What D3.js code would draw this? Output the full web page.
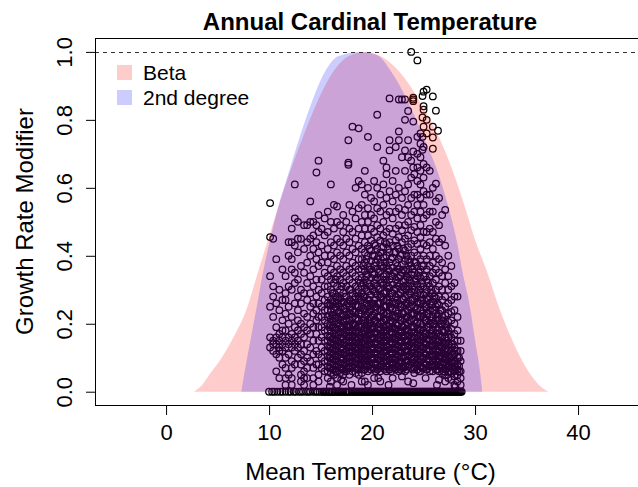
<!DOCTYPE html>
<html>
<head>
<meta charset="utf-8">
<script src="https://cdn.jsdelivr.net/npm/d3@7"></script>
<style>
  body { margin: 0; background: #fff; }
  svg { display: block; }
  text { font-family: 'Liberation Sans', Arial, sans-serif; fill: #000; }
</style>
</head>
<body>
<script>
// cardinal temperature response curves: [temperature, modifier]
const betaCurve = [
  [2.7, 0], [3.5, 0.02], [4.3, 0.054], [5.4, 0.1], [6.4, 0.152], [7.9, 0.25], [8.9, 0.35],
  [9.9, 0.447], [10.9, 0.545], [12.0, 0.644], [13.2, 0.742], [14.5, 0.84], [16.2, 0.94],
  [17.7, 0.987], [19.4, 1.0], [21.0, 0.985], [22.7, 0.94], [24.9, 0.84], [26.6, 0.742],
  [27.9, 0.644], [29.0, 0.545], [30.0, 0.447], [31.2, 0.35], [32.3, 0.25], [33.6, 0.152],
  [35.3, 0.054], [36.2, 0.02], [37.1, 0]
];
const quadCurve = [
  [7.3, 0], [7.6, 0.054], [8.2, 0.152], [8.8, 0.25], [9.4, 0.35], [10.1, 0.447], [10.9, 0.545],
  [11.9, 0.644], [12.9, 0.742], [14.0, 0.84], [15.4, 0.94], [16.7, 0.987], [18.9, 1.0],
  [20.5, 0.99], [21.9, 0.94], [23.7, 0.84], [25.1, 0.742], [26.4, 0.644], [27.4, 0.545],
  [28.2, 0.447], [28.8, 0.35], [29.5, 0.25], [30.0, 0.152], [30.5, 0.054], [30.7, 0]
];

// observed growth modifiers grouped by mean temperature
const obsByTemp = [
  [10.1, [0.555, 0.455, 0.34, 0.25, 0.16, 0.13]],
  [10.4, [0.45, 0.31, 0.28, 0.22, 0.15, 0.14, 0.12]],
  [10.7, [0.39, 0.26, 0.19, 0.16, 0.14, 0.11, 0.06]],
  [11.0, [0.30, 0.24, 0.17, 0.15, 0.13, 0.12, 0.10, 0.04]],
  [11.3, [0.36, 0.27, 0.21, 0.18, 0.16, 0.14, 0.12, 0.08]],
  [11.6, [0.34, 0.29, 0.27, 0.23, 0.18, 0.15, 0.13, 0.10, 0.07, 0.04, 0.02]],
  [11.9, [0.44, 0.40, 0.31, 0.25, 0.20, 0.16, 0.14, 0.11, 0.05]],
  [12.2, [0.48, 0.44, 0.39, 0.36, 0.30, 0.22, 0.17, 0.15, 0.13, 0.09, 0.07, 0.04, 0.02]],
  [12.5, [0.61, 0.51, 0.43, 0.35, 0.32, 0.26, 0.19, 0.16, 0.14, 0.12, 0.08]],
  [12.8, [0.50, 0.45, 0.41, 0.33, 0.28, 0.24, 0.21, 0.18, 0.15, 0.13, 0.10]],
  [13.1, [0.45, 0.37, 0.30, 0.26, 0.20, 0.17, 0.14, 0.11, 0.08, 0.05, 0.03]],
  [13.4, [0.49, 0.42, 0.35, 0.29, 0.23, 0.19, 0.16, 0.12, 0.09, 0.06, 0.04, 0.02]],
  [13.7, [0.49, 0.44, 0.38, 0.32, 0.27, 0.22, 0.18, 0.14, 0.10, 0.07, 0.04]],
  [14.0, [0.56, 0.50, 0.45, 0.40, 0.34, 0.29, 0.25, 0.20, 0.17, 0.13, 0.09]],
  [14.3, [0.50, 0.46, 0.42, 0.36, 0.31, 0.26, 0.23, 0.19, 0.15, 0.11, 0.07, 0.04, 0.02]],
  [14.6, [0.645, 0.49, 0.44, 0.39, 0.33, 0.28, 0.24, 0.21, 0.17, 0.12, 0.08]],
  [14.8, [0.68, 0.52, 0.47, 0.41, 0.37, 0.30, 0.26, 0.22, 0.19, 0.15, 0.11, 0.08, 0.05, 0.03]],
  [15.1, [0.48, 0.43, 0.38, 0.33, 0.29, 0.25, 0.22, 0.19, 0.16, 0.13, 0.10, 0.07]],
  [15.4, [0.51, 0.46, 0.40, 0.35, 0.31, 0.27, 0.24, 0.21, 0.18, 0.15, 0.12, 0.09, 0.06]],
  [15.7, [0.53, 0.47, 0.42, 0.38, 0.34, 0.31, 0.28, 0.26, 0.24, 0.22, 0.20, 0.18, 0.165, 0.15, 0.135, 0.12, 0.105, 0.09, 0.075, 0.06, 0.04]],
  [16.0, [0.61, 0.50, 0.44, 0.40, 0.36, 0.33, 0.30, 0.27, 0.255, 0.235, 0.215, 0.195, 0.18, 0.16, 0.145, 0.13, 0.115, 0.10, 0.085, 0.07, 0.055, 0.03]],
  [16.3, [0.55, 0.48, 0.43, 0.39, 0.35, 0.32, 0.29, 0.265, 0.245, 0.225, 0.205, 0.19, 0.17, 0.155, 0.14, 0.125, 0.11, 0.095, 0.08, 0.065, 0.05]],
  [16.6, [0.545, 0.50, 0.45, 0.41, 0.37, 0.34, 0.31, 0.28, 0.26, 0.24, 0.22, 0.20, 0.185, 0.165, 0.15, 0.135, 0.12, 0.105, 0.09, 0.075, 0.06, 0.04, 0.02]],
  [16.9, [0.49, 0.44, 0.40, 0.36, 0.33, 0.30, 0.275, 0.25, 0.23, 0.21, 0.195, 0.175, 0.16, 0.145, 0.13, 0.115, 0.10, 0.085, 0.07, 0.055]],
  [17.2, [0.52, 0.47, 0.43, 0.39, 0.35, 0.32, 0.29, 0.265, 0.245, 0.225, 0.205, 0.185, 0.17, 0.155, 0.14, 0.125, 0.11, 0.095, 0.08, 0.065, 0.05, 0.03]],
  [17.5, [0.50, 0.45, 0.41, 0.37, 0.34, 0.31, 0.28, 0.255, 0.235, 0.215, 0.195, 0.18, 0.165, 0.15, 0.135, 0.12, 0.105, 0.09, 0.075, 0.06]],
  [17.7, [0.74, 0.674, 0.668]],
  [17.8, [0.55, 0.48, 0.44, 0.40, 0.36, 0.33, 0.30, 0.27, 0.25, 0.23, 0.21, 0.19, 0.175, 0.16, 0.145, 0.13, 0.115, 0.10, 0.085, 0.07, 0.05]],
  [18.1, [0.78, 0.53, 0.47, 0.42, 0.38, 0.35, 0.32, 0.29, 0.26, 0.24, 0.22, 0.20, 0.18, 0.165, 0.15, 0.135, 0.12, 0.105, 0.09, 0.075, 0.06]],
  [18.4, [0.60, 0.51, 0.45, 0.41, 0.37, 0.34, 0.31, 0.28, 0.255, 0.235, 0.215, 0.195, 0.175, 0.16, 0.145, 0.13, 0.115, 0.10, 0.085, 0.07, 0.055]],
  [18.7, [0.775, 0.62, 0.54, 0.48, 0.43, 0.39, 0.36, 0.33, 0.30, 0.275, 0.25, 0.23, 0.21, 0.19, 0.17, 0.155, 0.14, 0.125, 0.11, 0.095, 0.08, 0.065, 0.05]],
  [19.0, [0.61, 0.55, 0.50, 0.46, 0.42, 0.39, 0.36, 0.335, 0.31, 0.29, 0.27, 0.25, 0.23, 0.21, 0.19, 0.175, 0.16, 0.145, 0.13, 0.115, 0.10, 0.085, 0.07, 0.055, 0.03]],
  [19.3, [0.65, 0.58, 0.52, 0.48, 0.44, 0.41, 0.38, 0.355, 0.33, 0.305, 0.28, 0.26, 0.24, 0.22, 0.20, 0.185, 0.17, 0.155, 0.14, 0.125, 0.11, 0.095, 0.08, 0.065]],
  [19.6, [0.75, 0.60, 0.54, 0.50, 0.46, 0.43, 0.40, 0.37, 0.345, 0.32, 0.295, 0.27, 0.25, 0.23, 0.21, 0.195, 0.18, 0.165, 0.15, 0.135, 0.12, 0.105, 0.09, 0.075, 0.06, 0.02]],
  [19.9, [0.57, 0.52, 0.48, 0.445, 0.415, 0.385, 0.36, 0.335, 0.31, 0.285, 0.26, 0.24, 0.22, 0.20, 0.185, 0.17, 0.155, 0.14, 0.125, 0.11, 0.095, 0.08, 0.065]],
  [20.2, [0.62, 0.56, 0.51, 0.47, 0.435, 0.40, 0.37, 0.345, 0.32, 0.295, 0.27, 0.25, 0.23, 0.21, 0.19, 0.175, 0.16, 0.145, 0.13, 0.115, 0.10, 0.085, 0.07, 0.04]],
  [20.5, [0.815, 0.72, 0.60, 0.54, 0.49, 0.455, 0.42, 0.39, 0.36, 0.335, 0.31, 0.285, 0.26, 0.24, 0.22, 0.20, 0.185, 0.17, 0.155, 0.14, 0.125, 0.11, 0.095, 0.08, 0.065]],
  [20.8, [0.58, 0.53, 0.48, 0.445, 0.41, 0.38, 0.355, 0.33, 0.305, 0.28, 0.26, 0.24, 0.22, 0.20, 0.18, 0.165, 0.15, 0.135, 0.12, 0.105, 0.09, 0.075, 0.06, 0.03]],
  [21.1, [0.68, 0.61, 0.55, 0.50, 0.46, 0.425, 0.395, 0.365, 0.34, 0.315, 0.29, 0.27, 0.25, 0.23, 0.21, 0.19, 0.175, 0.16, 0.145, 0.13, 0.115, 0.10, 0.085, 0.07]],
  [21.4, [0.66, 0.64, 0.57, 0.52, 0.47, 0.435, 0.40, 0.37, 0.345, 0.32, 0.295, 0.27, 0.25, 0.23, 0.21, 0.195, 0.18, 0.165, 0.15, 0.135, 0.12, 0.105, 0.09, 0.075, 0.06]],
  [21.7, [0.863, 0.74, 0.71, 0.59, 0.53, 0.48, 0.44, 0.41, 0.38, 0.355, 0.33, 0.305, 0.28, 0.26, 0.24, 0.22, 0.20, 0.185, 0.17, 0.155, 0.14, 0.125, 0.11, 0.095, 0.08, 0.065]],
  [22.0, [0.62, 0.56, 0.51, 0.465, 0.43, 0.395, 0.365, 0.34, 0.315, 0.29, 0.265, 0.245, 0.225, 0.205, 0.19, 0.175, 0.16, 0.145, 0.13, 0.115, 0.10, 0.085, 0.07, 0.04]],
  [22.3, [0.72, 0.65, 0.58, 0.53, 0.48, 0.445, 0.41, 0.38, 0.355, 0.33, 0.305, 0.28, 0.26, 0.24, 0.22, 0.20, 0.185, 0.17, 0.155, 0.14, 0.125, 0.11, 0.095, 0.08, 0.065]],
  [22.6, [0.86, 0.766, 0.74, 0.60, 0.54, 0.49, 0.455, 0.42, 0.39, 0.36, 0.335, 0.31, 0.285, 0.26, 0.24, 0.22, 0.20, 0.18, 0.165, 0.15, 0.135, 0.12, 0.105, 0.09, 0.075, 0.06]],
  [22.9, [0.86, 0.69, 0.57, 0.52, 0.475, 0.44, 0.405, 0.375, 0.35, 0.325, 0.30, 0.275, 0.25, 0.23, 0.21, 0.19, 0.175, 0.16, 0.145, 0.13, 0.115, 0.10, 0.085, 0.07]],
  [23.2, [0.86, 0.80, 0.71, 0.65, 0.59, 0.535, 0.49, 0.45, 0.415, 0.385, 0.355, 0.33, 0.305, 0.28, 0.255, 0.235, 0.215, 0.195, 0.18, 0.165, 0.15, 0.135, 0.12, 0.105, 0.09, 0.075, 0.06]],
  [23.5, [0.826, 0.74, 0.69, 0.61, 0.55, 0.50, 0.46, 0.425, 0.39, 0.36, 0.335, 0.31, 0.285, 0.26, 0.24, 0.22, 0.20, 0.18, 0.165, 0.15, 0.135, 0.12, 0.105, 0.09, 0.075, 0.03]],
  [23.8, [1.0, 0.68, 0.63, 0.57, 0.52, 0.475, 0.435, 0.40, 0.37, 0.345, 0.32, 0.295, 0.27, 0.25, 0.23, 0.21, 0.19, 0.175, 0.16, 0.145, 0.13, 0.115, 0.10, 0.085, 0.07]],
  [24.0, [0.865, 0.86, 0.855, 0.795, 0.707, 0.66]],
  [24.1, [0.64, 0.58, 0.53, 0.485, 0.445, 0.41, 0.38, 0.35, 0.325, 0.30, 0.275, 0.25, 0.23, 0.21, 0.19, 0.175, 0.16, 0.145, 0.13, 0.115, 0.10, 0.085, 0.07, 0.055]],
  [24.4, [0.975, 0.75, 0.70, 0.66, 0.62, 0.58, 0.55, 0.51, 0.47, 0.435, 0.40, 0.37, 0.34, 0.315, 0.29, 0.265, 0.245, 0.225, 0.205, 0.185, 0.17, 0.155, 0.14, 0.125, 0.11, 0.095, 0.08, 0.065]],
  [24.7, [0.76, 0.73, 0.69, 0.65, 0.61, 0.57, 0.53, 0.49, 0.455, 0.42, 0.39, 0.36, 0.335, 0.31, 0.285, 0.26, 0.24, 0.22, 0.20, 0.18, 0.165, 0.15, 0.135, 0.12, 0.105, 0.09, 0.075, 0.06]],
  [24.9, [0.87, 0.807, 0.75, 0.712]],
  [25.0, [0.883, 0.84, 0.83, 0.78, 0.72, 0.67, 0.63, 0.59, 0.55, 0.51, 0.47, 0.435, 0.40, 0.37, 0.34, 0.31, 0.285, 0.26, 0.24, 0.22, 0.20, 0.18, 0.16, 0.145, 0.13, 0.115, 0.10, 0.085, 0.07]],
  [25.3, [0.889, 0.80, 0.76, 0.66, 0.58, 0.52, 0.47, 0.43, 0.39, 0.36, 0.33, 0.30, 0.275, 0.25, 0.23, 0.21, 0.19, 0.17, 0.155, 0.14, 0.125, 0.11, 0.095, 0.08, 0.065]],
  [25.6, [0.65, 0.58, 0.53, 0.48, 0.44, 0.40, 0.37, 0.34, 0.31, 0.28, 0.26, 0.24, 0.22, 0.20, 0.18, 0.165, 0.15, 0.135, 0.12, 0.105, 0.09, 0.075, 0.06]],
  [25.9, [0.869, 0.78, 0.748, 0.715, 0.60, 0.53, 0.47, 0.42, 0.38, 0.35, 0.32, 0.29, 0.265, 0.24, 0.22, 0.20, 0.18, 0.165, 0.15, 0.135, 0.12, 0.105, 0.09, 0.075, 0.06]],
  [26.2, [0.827, 0.612, 0.56, 0.50, 0.45, 0.40, 0.36, 0.33, 0.30, 0.275, 0.25, 0.23, 0.21, 0.19, 0.17, 0.155, 0.14, 0.125, 0.11, 0.095, 0.08, 0.065]],
  [26.4, [0.768]],
  [26.5, [0.57, 0.49, 0.44, 0.39, 0.35, 0.31, 0.28, 0.255, 0.23, 0.21, 0.19, 0.17, 0.15, 0.135, 0.12, 0.105, 0.09, 0.075, 0.06, 0.035]],
  [26.8, [0.52, 0.45, 0.38, 0.34, 0.30, 0.27, 0.24, 0.22, 0.20, 0.18, 0.16, 0.145, 0.13, 0.115, 0.10, 0.085, 0.07, 0.055]],
  [27.1, [0.535, 0.43, 0.36, 0.32, 0.28, 0.25, 0.225, 0.20, 0.18, 0.16, 0.14, 0.125, 0.11, 0.095, 0.08, 0.065, 0.05]],
  [27.4, [0.40, 0.34, 0.30, 0.26, 0.23, 0.205, 0.18, 0.16, 0.14, 0.12, 0.105, 0.09, 0.075, 0.06, 0.04]],
  [27.7, [0.37, 0.31, 0.27, 0.235, 0.21, 0.185, 0.16, 0.14, 0.12, 0.10, 0.085, 0.07, 0.055, 0.035]],
  [28.0, [0.32, 0.28, 0.24, 0.20, 0.17, 0.15, 0.13, 0.11, 0.09, 0.075, 0.06, 0.045, 0.02]],
  [28.3, [0.28, 0.22, 0.18, 0.15, 0.12, 0.10, 0.08, 0.065, 0.05, 0.03]],
  [28.6, [0.15, 0.12, 0.09, 0.06, 0.04, 0.02]]
];

// extra readings in the crowded core, between the temperature columns above
const coreObs = [
  [15.85, [0.255, 0.225, 0.19, 0.16, 0.13, 0.10, 0.07]],
  [16.15, [0.29, 0.26, 0.225, 0.19, 0.155, 0.125, 0.095, 0.065]],
  [16.45, [0.33, 0.28, 0.25, 0.215, 0.18, 0.15, 0.12, 0.09, 0.06]],
  [16.75, [0.27, 0.235, 0.20, 0.17, 0.14, 0.11, 0.08]],
  [17.05, [0.31, 0.26, 0.22, 0.19, 0.16, 0.13, 0.10, 0.07]],
  [17.35, [0.28, 0.245, 0.21, 0.175, 0.145, 0.115, 0.085, 0.06]],
  [17.65, [0.26, 0.225, 0.19, 0.16, 0.13, 0.10, 0.07]],
  [17.95, [0.30, 0.265, 0.23, 0.195, 0.165, 0.135, 0.105, 0.075]],
  [18.25, [0.27, 0.235, 0.20, 0.17, 0.14, 0.11, 0.08]],
  [18.55, [0.29, 0.25, 0.215, 0.18, 0.15, 0.12, 0.09, 0.065]],
  [18.85, [0.32, 0.28, 0.24, 0.20, 0.165, 0.135, 0.105, 0.075]],
  [19.15, [0.37, 0.32, 0.28, 0.245, 0.21, 0.18, 0.15, 0.12, 0.09, 0.065]],
  [19.45, [0.39, 0.34, 0.30, 0.26, 0.225, 0.19, 0.16, 0.13, 0.10, 0.075]],
  [19.75, [0.42, 0.36, 0.31, 0.27, 0.235, 0.20, 0.17, 0.14, 0.11, 0.08]],
  [20.05, [0.40, 0.35, 0.30, 0.26, 0.225, 0.19, 0.16, 0.13, 0.10, 0.07]],
  [20.35, [0.43, 0.38, 0.33, 0.29, 0.25, 0.21, 0.175, 0.145, 0.115, 0.085, 0.06]],
  [20.65, [0.40, 0.35, 0.30, 0.26, 0.22, 0.19, 0.16, 0.13, 0.10, 0.07]],
  [20.95, [0.41, 0.37, 0.32, 0.28, 0.24, 0.205, 0.17, 0.14, 0.11, 0.08]],
  [21.25, [0.44, 0.38, 0.33, 0.29, 0.25, 0.215, 0.18, 0.15, 0.12, 0.09, 0.065]],
  [21.55, [0.42, 0.36, 0.31, 0.27, 0.23, 0.19, 0.16, 0.13, 0.10, 0.075]],
  [21.85, [0.39, 0.34, 0.29, 0.25, 0.21, 0.175, 0.145, 0.115, 0.085, 0.06]],
  [22.15, [0.41, 0.35, 0.30, 0.26, 0.22, 0.185, 0.155, 0.125, 0.095, 0.07]],
  [22.45, [0.43, 0.37, 0.32, 0.27, 0.23, 0.195, 0.16, 0.13, 0.10, 0.075]],
  [22.75, [0.40, 0.34, 0.29, 0.25, 0.21, 0.175, 0.145, 0.115, 0.085, 0.065]],
  [23.05, [0.42, 0.36, 0.31, 0.27, 0.23, 0.19, 0.16, 0.13, 0.10, 0.07]],
  [23.35, [0.40, 0.34, 0.30, 0.26, 0.22, 0.185, 0.15, 0.12, 0.09, 0.065]],
  [23.65, [0.38, 0.33, 0.29, 0.25, 0.21, 0.17, 0.14, 0.11, 0.08]],
  [23.95, [0.36, 0.31, 0.27, 0.23, 0.19, 0.155, 0.125, 0.095, 0.065]],
  [24.25, [0.38, 0.33, 0.28, 0.24, 0.20, 0.165, 0.135, 0.105, 0.075]],
  [24.55, [0.35, 0.30, 0.26, 0.22, 0.18, 0.145, 0.115, 0.085, 0.06]],
  [24.85, [0.37, 0.32, 0.27, 0.23, 0.19, 0.155, 0.125, 0.095, 0.07]],
  [25.15, [0.34, 0.29, 0.25, 0.21, 0.17, 0.14, 0.11, 0.08]],
  [25.45, [0.32, 0.27, 0.23, 0.19, 0.155, 0.125, 0.095, 0.07]],
  [25.75, [0.30, 0.255, 0.21, 0.17, 0.14, 0.11, 0.08]],
  [26.05, [0.28, 0.24, 0.20, 0.165, 0.135, 0.105, 0.075]],
  [26.35, [0.26, 0.22, 0.18, 0.145, 0.115, 0.085, 0.065]],
  [26.65, [0.24, 0.20, 0.165, 0.135, 0.105, 0.08]],
  [26.95, [0.21, 0.175, 0.14, 0.11, 0.085, 0.06]],
  [27.25, [0.19, 0.15, 0.12, 0.095, 0.07]],
  [27.55, [0.17, 0.13, 0.10, 0.075, 0.06]],
  [27.85, [0.14, 0.11, 0.085, 0.065]],
  [28.15, [0.12, 0.09, 0.07]],
  [28.45, [0.10, 0.075, 0.06]]
];

// sparse low readings under the main cloud
const lowObs = [
  [15.9, 0.015], [17.0, 0.035], [18.0, 0.02], [19.3, 0.03], [20.6, 0.04], [21.6, 0.02],
  [22.9, 0.045], [24.0, 0.025], [25.2, 0.04], [26.3, 0.02], [27.1, 0.03], [28.1, 0.015]
];

// temperatures of observations with zero growth
const zeroTemps = [
  10.0, 10.3, 10.5, 10.8, 11.1, 11.3, 11.6, 11.9, 12.1, 12.4, 12.6, 12.9, 13.1, 13.3, 13.6,
  13.8, 14.0, 14.3, 14.5, 14.7, 14.9, 15.1, 15.3, 15.4, 15.6, 15.8, 15.9, 16.1, 16.2, 16.4,
  16.6, 16.7, 16.9, 17.0, 17.2, 17.4, 17.5, 17.7, 17.8, 18.0, 18.2, 18.3, 18.5, 18.6, 18.8,
  19.0, 19.1, 19.3, 19.4, 19.6, 19.8, 19.9, 20.1, 20.2, 20.4, 20.6, 20.7, 20.9, 21.0, 21.2,
  21.4, 21.5, 21.7, 21.8, 22.0, 22.2, 22.3, 22.5, 22.6, 22.8, 23.0, 23.1, 23.3, 23.4, 23.6,
  23.8, 23.9, 24.1, 24.2, 24.4, 24.6, 24.7, 24.9, 25.0, 25.2, 25.4, 25.5, 25.7, 25.8, 26.0,
  26.2, 26.3, 26.5, 26.6, 26.8, 27.0, 27.1, 27.3, 27.4, 27.6, 27.8, 27.9, 28.1, 28.2, 28.4,
  28.6, 28.7,
  15.25, 15.55, 15.85, 16.15, 16.45, 16.8, 17.1, 17.45, 17.75, 18.1, 18.4, 18.7, 18.95,
  19.25, 19.5, 19.7, 20.0, 20.3, 20.5, 20.8, 21.1, 21.35, 21.6, 21.9, 22.1, 22.4, 22.7,
  22.9, 23.2, 23.5, 23.7, 24.0, 24.3, 24.5, 24.8, 25.1, 25.3, 25.6, 25.9, 26.1, 26.4,
  26.7, 26.9, 27.2, 27.5, 27.7, 28.0, 28.3, 28.5
];

const xTicks = [0, 10, 20, 30, 40];
const yTicks = [0, 0.2, 0.4, 0.6, 0.8, 1.0];
const legendItems = [
  { label: 'Beta', fill: 'rgba(255,0,0,0.2)' },
  { label: '2nd degree', fill: 'rgba(0,0,255,0.2)' }
];

const width = 638;
const height = 487;
const font = "'Liberation Sans', Arial, sans-serif";

const svg = d3.select('body').append('svg')
  .attr('width', width)
  .attr('height', height);

const x = d3.scaleLinear().domain([-6.9, 46.5]).range([95, 645]);
const y = d3.scaleLinear().domain([-0.04, 1.04]).range([405.3, 38.3]);

const points = obsByTemp.concat(coreObs)
  .flatMap(([t, gs]) => gs.map(g => [t, g]))
  .concat(lowObs)
  .concat(zeroTemps.map(t => [t, 0]));

// points go underneath the translucent curves
svg.append('g')
  .selectAll('circle')
  .data(points)
  .join('circle')
  .attr('cx', d => x(d[0]))
  .attr('cy', d => y(d[1]))
  .attr('r', 3.3)
  .attr('fill', 'none')
  .attr('stroke', '#000')
  .attr('stroke-width', 1.25);

const area = d3.area()
  .x(d => x(d[0]))
  .y0(y(0))
  .y1(d => y(d[1]))
  .curve(d3.curveMonotoneX);

svg.append('path').datum(betaCurve).attr('d', area).attr('fill', legendItems[0].fill);
svg.append('path').datum(quadCurve).attr('d', area).attr('fill', legendItems[1].fill);

// reference line at full growth
svg.append('line')
  .attr('x1', x.range()[0]).attr('x2', x.range()[1])
  .attr('y1', Math.round(y(1)) + 0.5).attr('y2', Math.round(y(1)) + 0.5)
  .attr('stroke', '#333')
  .attr('stroke-dasharray', '4,4');

// plot box
svg.append('rect')
  .attr('x', 95.5).attr('y', 38.5)
  .attr('width', 550).attr('height', 367)
  .attr('fill', 'none')
  .attr('stroke', '#000');

const xAxis = svg.append('g')
  .attr('transform', 'translate(0,405)')
  .call(d3.axisBottom(x).tickValues(xTicks).tickSize(10).tickPadding(9.5));
xAxis.select('.domain').remove();
xAxis.selectAll('text').attr('font-size', 22).attr('font-family', font);

const yAxis = svg.append('g')
  .attr('transform', 'translate(95,0)')
  .call(d3.axisLeft(y).tickValues(yTicks).tickFormat(d3.format('.1f')).tickSize(9));
yAxis.select('.domain').remove();
yAxis.selectAll('text')
  .attr('font-size', 22)
  .attr('font-family', font)
  .attr('x', null).attr('dy', null)
  .attr('text-anchor', 'middle')
  .attr('transform', 'translate(-23,0) rotate(-90)');

// legend
const legend = svg.append('g');
legendItems.forEach((item, i) => {
  legend.append('rect')
    .attr('x', 117).attr('y', 65 + i * 25)
    .attr('width', 15).attr('height', 15)
    .attr('fill', item.fill);
  legend.append('text')
    .attr('x', 143).attr('y', 79.5 + i * 25)
    .attr('font-size', 21)
    .text(item.label);
});

svg.append('text')
  .attr('x', 370).attr('y', 29.5)
  .attr('text-anchor', 'middle')
  .attr('font-size', 24)
  .attr('font-weight', 'bold')
  .text('Annual Cardinal Temperature');

svg.append('text')
  .attr('x', 370.5).attr('y', 479.5)
  .attr('text-anchor', 'middle')
  .attr('font-size', 24)
  .text('Mean Temperature (°C)');

svg.append('text')
  .attr('transform', 'translate(33,221.5) rotate(-90)')
  .attr('text-anchor', 'middle')
  .attr('font-size', 24)
  .text('Growth Rate Modifier');
</script>
</body>
</html>
